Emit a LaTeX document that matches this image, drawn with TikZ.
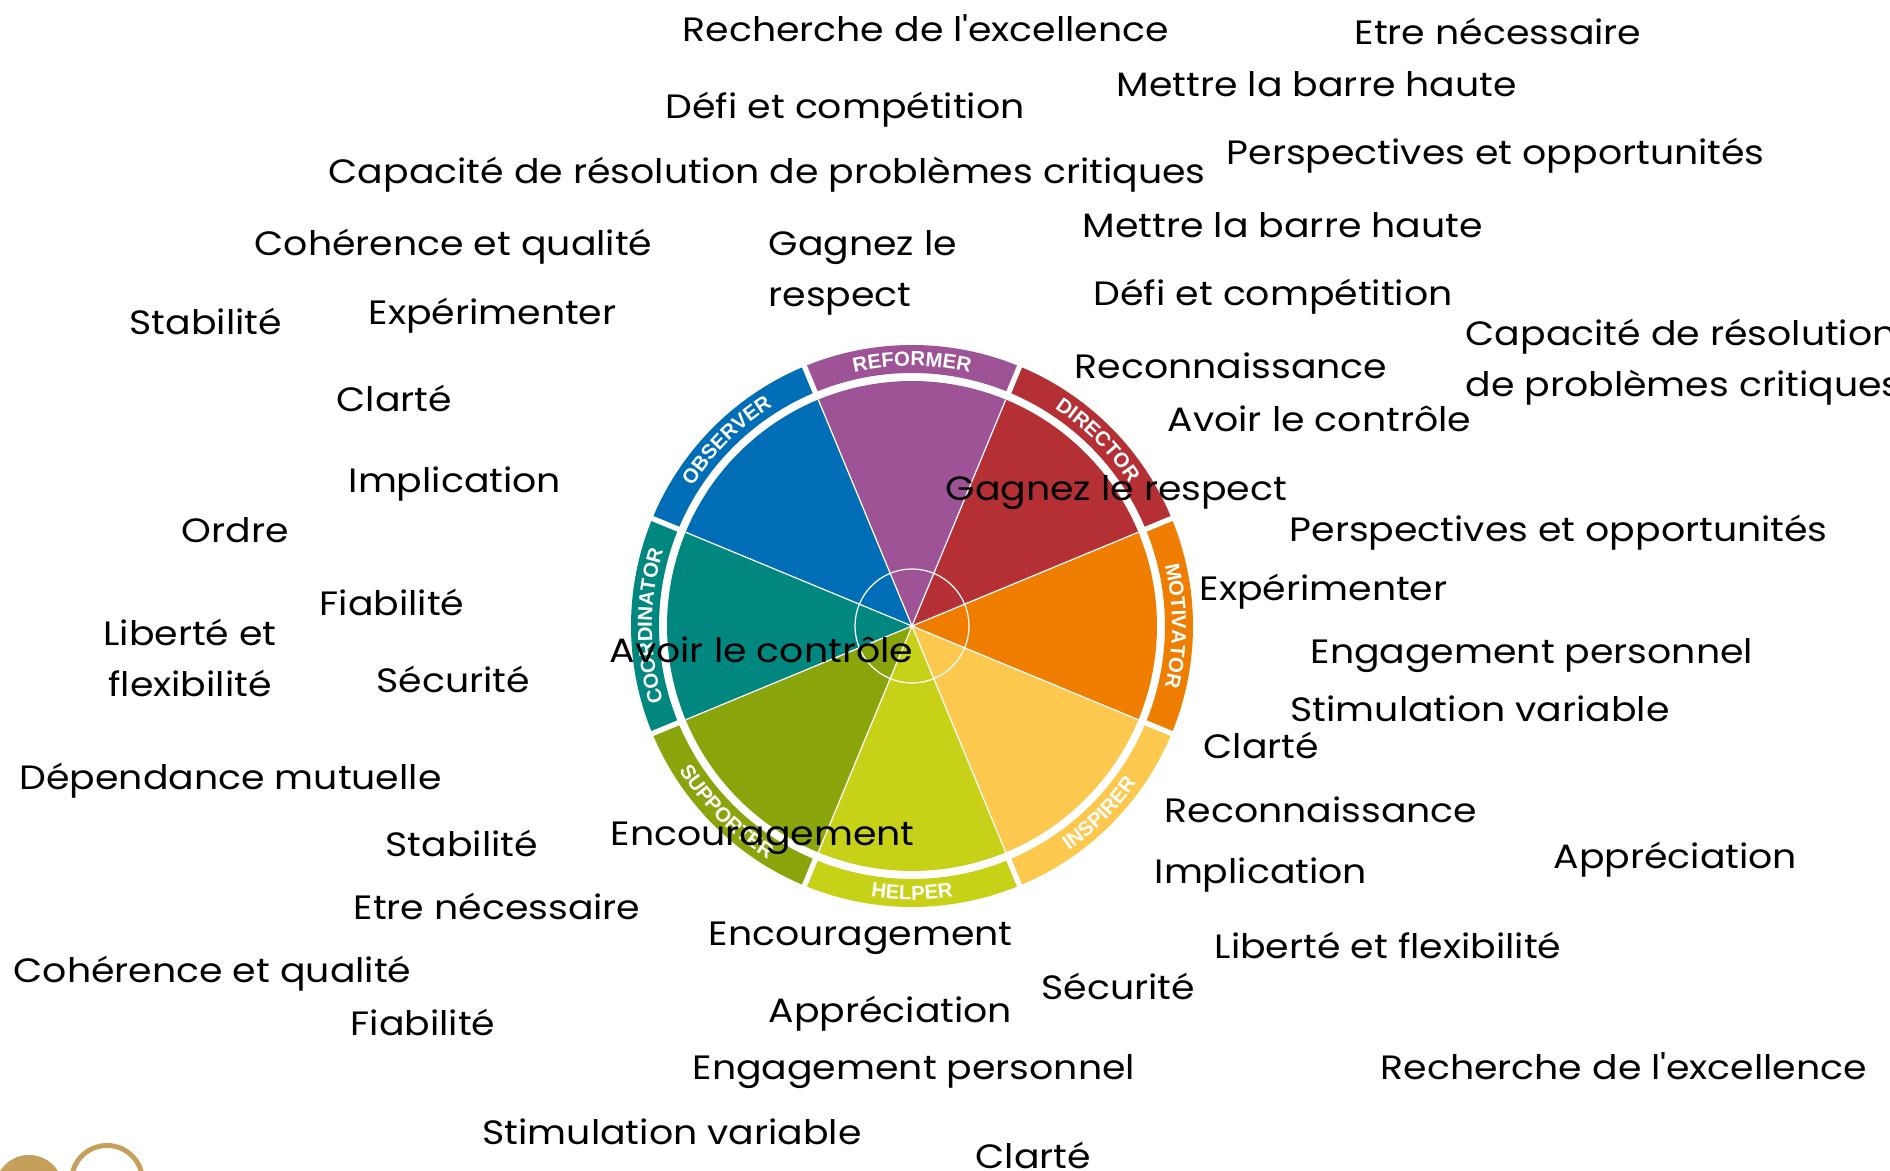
\documentclass[tikz,border=0pt]{standalone}
\usepackage{fontspec}
\setmainfont{Poppins}[FakeStretch=1.12]
\newfontfamily\bandsans{Liberation Sans}
\usetikzlibrary{decorations.text}

\definecolor{reformer}{HTML}{9D5396}
\definecolor{director}{HTML}{B43034}
\definecolor{motivator}{HTML}{EE7D00}
\definecolor{inspirer}{HTML}{FCC94E}
\definecolor{helper}{HTML}{C7D118}
\definecolor{supporter}{HTML}{8AA40C}
\definecolor{coordinator}{HTML}{00877F}
\definecolor{observer}{HTML}{006EB6}
\definecolor{gold}{HTML}{C4A05A}
\newcommand{\bandfont}{\bandsans\bfseries\fontsize{5.8}{6}\selectfont}

\begin{document}
\begin{tikzpicture}[x=0.01cm, y=-0.01cm,
    lbl/.style={anchor=base west, inner sep=0pt, font=\fontsize{9.6}{14.4}\selectfont},
    bandtext/.style={decorate, decoration={text along path, text align=center, text color=white, text={|\bandfont|#1}}}]
        \path[use as bounding box, clip] (0,0) rectangle (1890,1171);

        \begin{scope}[shift={(912,626)}, x=0.01cm, y=0.01cm]
            \fill[reformer] (0,0) -- (67.5:245) arc (67.5:112.5:245) -- cycle;
            \fill[observer] (0,0) -- (112.5:245) arc (112.5:157.5:245) -- cycle;
            \fill[coordinator] (0,0) -- (157.5:245) arc (157.5:202.5:245) -- cycle;
            \fill[supporter] (0,0) -- (202.5:245) arc (202.5:247.5:245) -- cycle;
            \fill[helper] (0,0) -- (247.5:245) arc (247.5:292.5:245) -- cycle;
            \fill[inspirer] (0,0) -- (292.5:245) arc (292.5:337.5:245) -- cycle;
            \fill[motivator] (0,0) -- (-22.5:245) arc (-22.5:22.5:245) -- cycle;
            \fill[director] (0,0) -- (22.5:245) arc (22.5:67.5:245) -- cycle;

            \fill[reformer] (67.5:253) arc (67.5:112.5:253) -- (112.5:281) arc (112.5:67.5:281) -- cycle;
            \fill[observer] (112.5:253) arc (112.5:157.5:253) -- (157.5:281) arc (157.5:112.5:281) -- cycle;
            \fill[coordinator] (157.5:253) arc (157.5:202.5:253) -- (202.5:281) arc (202.5:157.5:281) -- cycle;
            \fill[supporter] (202.5:253) arc (202.5:247.5:253) -- (247.5:281) arc (247.5:202.5:281) -- cycle;
            \fill[helper] (247.5:253) arc (247.5:292.5:253) -- (292.5:281) arc (292.5:247.5:281) -- cycle;
            \fill[inspirer] (292.5:253) arc (292.5:337.5:253) -- (337.5:281) arc (337.5:292.5:281) -- cycle;
            \fill[motivator] (-22.5:253) arc (-22.5:22.5:253) -- (22.5:281) arc (22.5:-22.5:281) -- cycle;
            \fill[director] (22.5:253) arc (22.5:67.5:253) -- (67.5:281) arc (67.5:22.5:281) -- cycle;

            \draw[white, line width=0.35pt] (0,0) -- (22.5:245);
            \draw[white, line width=0.35pt] (0,0) -- (67.5:245);
            \draw[white, line width=0.35pt] (0,0) -- (112.5:245);
            \draw[white, line width=0.35pt] (0,0) -- (157.5:245);
            \draw[white, line width=0.35pt] (0,0) -- (202.5:245);
            \draw[white, line width=0.35pt] (0,0) -- (247.5:245);
            \draw[white, line width=0.35pt] (0,0) -- (292.5:245);
            \draw[white, line width=0.35pt] (0,0) -- (337.5:245);
            \draw[white, line width=0.35pt] (0,0) circle (57);

            \draw[white, line width=1.5pt] (22.5:250) -- (22.5:285);
            \draw[white, line width=1.5pt] (67.5:250) -- (67.5:285);
            \draw[white, line width=1.5pt] (112.5:250) -- (112.5:285);
            \draw[white, line width=1.5pt] (157.5:250) -- (157.5:285);
            \draw[white, line width=1.5pt] (202.5:250) -- (202.5:285);
            \draw[white, line width=1.5pt] (247.5:250) -- (247.5:285);
            \draw[white, line width=1.5pt] (292.5:250) -- (292.5:285);
            \draw[white, line width=1.5pt] (337.5:250) -- (337.5:285);

            \path[bandtext=REFORMER] (112:260) arc (112:68:260);
            \path[bandtext=OBSERVER] (157:260) arc (157:113:260);
            \path[bandtext=COORDINATOR] (202:260) arc (202:158:260);
            \path[bandtext=DIRECTOR] (67:260) arc (67:23:260);
            \path[bandtext=MOTIVATOR] (22:260) arc (22:-22:260);
            \path[bandtext=SUPPORTER] (203:274) arc (203:247:274);
            \path[bandtext=HELPER] (248:274) arc (248:292:274);
            \path[bandtext=INSPIRER] (293:274) arc (293:337:274);
        \end{scope}

        \fill[gold] (29,1189) circle (34);
        \draw[gold, line width=1.4pt] (107,1181) circle (35.5);

        \node[lbl] (rech1) at (682,42) {Recherche de l\textquotesingle excellence};
        \node[lbl] (etre1) at (1354,45) {Etre nécessaire};
        \node[lbl] (mettre1) at (1116,97) {Mettre la barre haute};
        \node[lbl] (defi1) at (665,119) {Défi et compétition};
        \node[lbl] (persp1) at (1226,165) {Perspectives et opportunités};
        \node[lbl] (capa1) at (328,184) {Capacité de résolution de problèmes critiques};
        \node[lbl] (mettre2) at (1082,238) {Mettre la barre haute};
        \node[lbl] (coher1) at (254,256) {Cohérence et qualité};
        \node[lbl, anchor=west, align=left] (gagnez1) at (768,273) {Gagnez le\\respect};
        \node[lbl] (defi2) at (1093,306) {Défi et compétition};
        \node[lbl] (stab1) at (129,335) {Stabilité};
        \node[lbl] (exper1) at (368,325) {Expérimenter};
        \node[lbl, anchor=west, align=left] (capa2) at (1465,362) {Capacité de résolution\\de problèmes critiques};
        \node[lbl] (recon1) at (1074,379) {Reconnaissance};
        \node[lbl] (clarte1) at (336,412) {Clarté};
        \node[lbl] (avoir1) at (1167,432) {Avoir le contrôle};
        \node[lbl] (impl1) at (348,493) {Implication};
        \node[lbl] (gagnez2) at (945,501) {Gagnez le respect};
        \node[lbl] (ordre1) at (181,543) {Ordre};
        \node[lbl] (persp2) at (1289,542) {Perspectives et opportunités};
        \node[lbl] (exper2) at (1199,601) {Expérimenter};
        \node[lbl] (fiab1) at (319,616) {Fiabilité};
        \node[lbl, anchor=center, align=center] (liberte1) at (190,658) {Liberté et\\flexibilité};
        \node[lbl] (avoir2) at (609,663) {Avoir le contrôle};
        \node[lbl] (engag1) at (1310,664) {Engagement personnel};
        \node[lbl] (secu1) at (376,693) {Sécurité};
        \node[lbl] (stim1) at (1290,722) {Stimulation variable};
        \node[lbl] (clarte2) at (1203,759) {Clarté};
        \node[lbl] (depend1) at (19,790) {Dépendance mutuelle};
        \node[lbl] (recon2) at (1164,823) {Reconnaissance};
        \node[lbl] (stab2) at (385,857) {Stabilité};
        \node[lbl] (encour1) at (610,846) {Encouragement};
        \node[lbl] (appre1) at (1553,869) {Appréciation};
        \node[lbl] (impl2) at (1154,884) {Implication};
        \node[lbl] (etre2) at (353,920) {Etre nécessaire};
        \node[lbl] (encour2) at (708,946) {Encouragement};
        \node[lbl] (liberte2) at (1214,959) {Liberté et flexibilité};
        \node[lbl] (coher2) at (13,983) {Cohérence et qualité};
        \node[lbl] (secu2) at (1041,1000) {Sécurité};
        \node[lbl] (appre2) at (768,1023) {Appréciation};
        \node[lbl] (fiab2) at (350,1036) {Fiabilité};
        \node[lbl] (engag2) at (692,1080) {Engagement personnel};
        \node[lbl] (rech2) at (1380,1080) {Recherche de l\textquotesingle excellence};
        \node[lbl] (stim2) at (482,1145) {Stimulation variable};
        \node[lbl] (clarte3) at (975,1169) {Clarté};
\end{tikzpicture}
\end{document}
